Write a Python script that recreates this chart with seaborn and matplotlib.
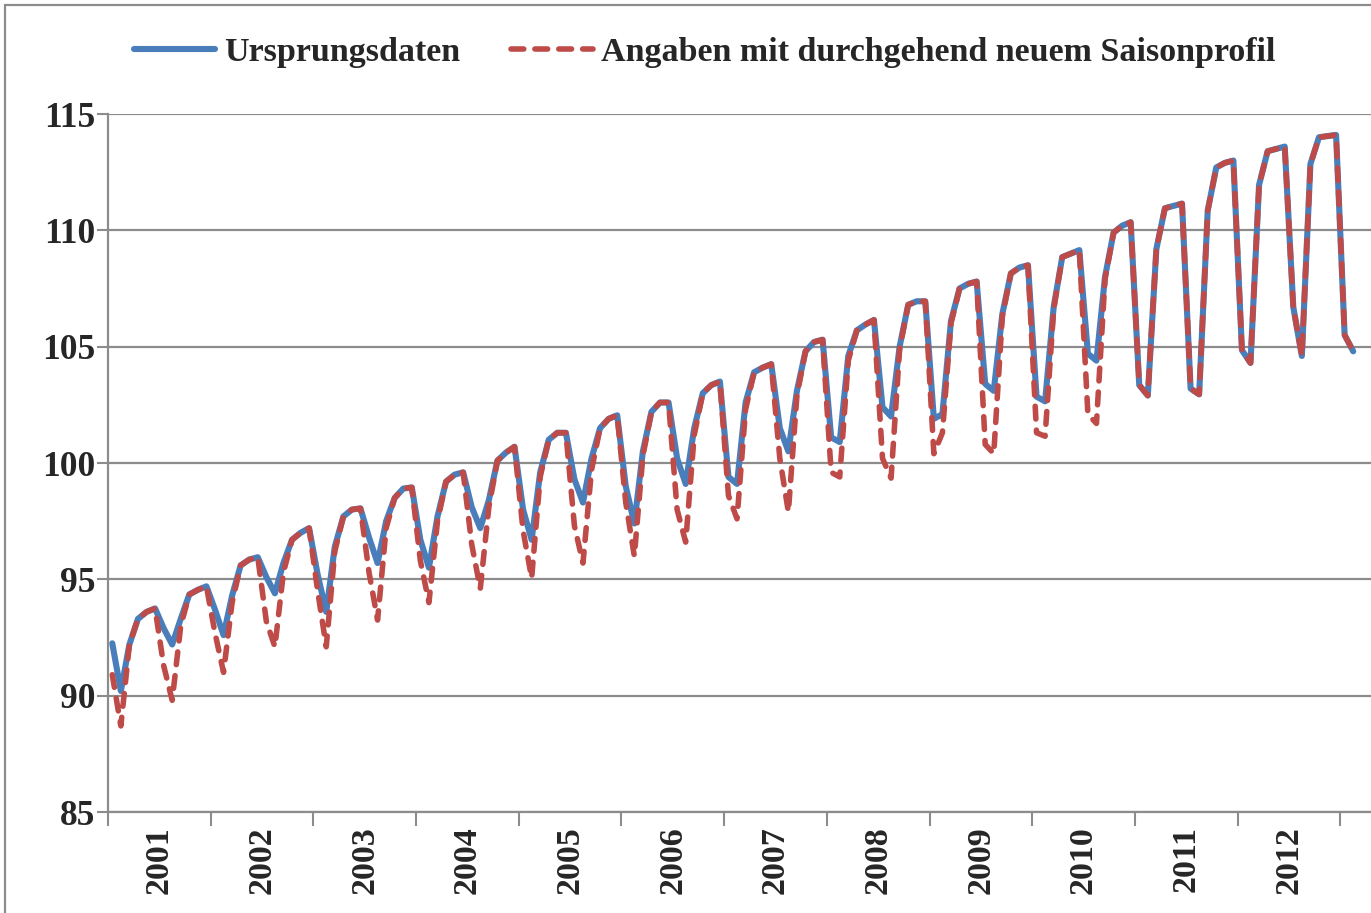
import numpy as np
import pandas as pd
import matplotlib
matplotlib.use('Agg')
import matplotlib.pyplot as plt
import seaborn as sns
from matplotlib.patches import Rectangle

# Jahre auf der x-Achse
jahre = ['2001', '2002', '2003', '2004', '2005', '2006',
         '2007', '2008', '2009', '2010', '2011', '2012']

# Monatswerte Jan 2001 - Feb 2013
ursprung = [
    92.25, 90.2, 92.2, 93.3, 93.6, 93.75, 92.9, 92.2, 93.3, 94.35, 94.55, 94.7,        # 2001
    93.7, 92.6, 94.3, 95.6, 95.85, 95.95, 95.1, 94.4, 95.7, 96.7, 97.0, 97.2,          # 2002
    95.2, 93.6, 96.4, 97.7, 98.0, 98.05, 96.8, 95.7, 97.5, 98.5, 98.9, 98.95,          # 2003
    96.7, 95.5, 97.7, 99.2, 99.5, 99.6, 98.1, 97.2, 98.4, 100.1, 100.45, 100.7,        # 2004
    98.0, 96.7, 99.6, 101.0, 101.3, 101.3, 99.3, 98.3, 100.2, 101.5, 101.9, 102.05,    # 2005
    99.0, 97.4, 100.5, 102.2, 102.6, 102.6, 100.2, 99.1, 101.5, 103.0, 103.35, 103.5,  # 2006
    99.4, 99.1, 102.6, 103.9, 104.1, 104.25, 101.5, 100.5, 103.1, 104.8, 105.2, 105.3, # 2007
    101.1, 100.9, 104.6, 105.7, 105.95, 106.15, 102.4, 102.0, 105.0, 106.8, 106.95, 106.95,  # 2008
    101.9, 102.1, 106.1, 107.5, 107.7, 107.8, 103.4, 103.1, 106.4, 108.15, 108.4, 108.5,     # 2009
    102.85, 102.65, 106.7, 108.85, 109.0, 109.15, 104.7, 104.4, 108.0, 109.9, 110.2, 110.35, # 2010
    103.35, 102.9, 109.2, 110.95, 111.05, 111.15, 103.2, 102.95, 110.85, 112.7, 112.9, 113.0, # 2011
    104.85, 104.3, 111.95, 113.4, 113.5, 113.6, 106.7, 104.6, 112.85, 114.0, 114.05, 114.1,   # 2012
    105.5, 104.8,                                                                             # 2013
]

neues_profil = [
    90.9, 88.7, 92.2, 93.3, 93.6, 93.75, 91.3, 89.8, 93.0, 94.35, 94.55, 94.7,
    92.7, 91.0, 94.0, 95.6, 95.85, 95.95, 93.2, 92.1, 95.3, 96.7, 97.0, 97.2,
    94.5, 92.1, 96.2, 97.7, 98.0, 98.05, 95.3, 93.25, 97.2, 98.5, 98.9, 98.95,
    95.8, 94.0, 97.5, 99.2, 99.5, 99.6, 96.5, 94.6, 98.1, 100.1, 100.45, 100.7,
    97.1, 95.05, 99.4, 101.0, 101.3, 101.3, 97.3, 95.7, 99.7, 101.5, 101.9, 102.05,
    98.3, 96.0, 100.3, 102.2, 102.6, 102.6, 98.0, 96.6, 101.2, 103.0, 103.35, 103.5,
    98.6, 97.6, 102.3, 103.9, 104.1, 104.25, 100.2, 97.9, 102.9, 104.8, 105.2, 105.3,
    99.6, 99.4, 104.4, 105.7, 105.95, 106.15, 100.2, 99.35, 104.9, 106.8, 106.95, 106.95,
    100.4, 101.3, 106.0, 107.5, 107.7, 107.8, 100.8, 100.4, 106.3, 108.15, 108.4, 108.5,
    101.3, 101.15, 106.6, 108.85, 109.0, 109.15, 102.1, 101.7, 107.9, 109.9, 110.2, 110.35,
    103.35, 102.9, 109.2, 110.95, 111.05, 111.15, 103.2, 102.95, 110.85, 112.7, 112.9, 113.0,
    104.85, 104.3, 111.95, 113.4, 113.5, 113.6, 106.7, 104.6, 112.85, 114.0, 114.05, 114.1,
    105.5, 104.8,
]

blau = '#4A7EBB'
rot = '#BE4B48'
grau = '#8C8C8C'

df = pd.DataFrame({
    'monat': np.arange(len(ursprung)),
    'Ursprungsdaten': ursprung,
    'Angaben mit durchgehend neuem Saisonprofil': neues_profil,
})

sns.set_style('white')
plt.rcParams['font.family'] = ['Liberation Serif', 'DejaVu Serif']
plt.rcParams['font.weight'] = 'bold'

fig = plt.figure(figsize=(13.71, 9.13), dpi=100)
ax = fig.add_axes([108 / 1371, 101 / 913, 1263 / 1371, 698 / 913])

sns.lineplot(data=df, x='monat', y='Ursprungsdaten', ax=ax, color=blau,
             linewidth=4.4, label='Ursprungsdaten', zorder=3)
sns.lineplot(data=df, x='monat', y='Angaben mit durchgehend neuem Saisonprofil', ax=ax,
             color=rot, linewidth=4.0, linestyle=(0, (2.3, 2.0)),
             dash_capstyle='round', label='Angaben mit durchgehend neuem Saisonprofil',
             zorder=4)

ax.set_xlim(-0.5, 147.08)
ax.set_ylim(85, 115)
ax.set_yticks(np.arange(85, 116, 5))
ax.set_yticklabels([str(v) for v in range(85, 116, 5)], fontsize=25.5, fontweight='bold')

ax.set_xticks(np.arange(13) * 12 - 0.5)
ax.set_xticklabels([])
ax.set_xticks(np.arange(12) * 12 + 5.5, minor=True)
ax.set_xticklabels(jahre, minor=True, rotation=90, fontsize=24.5, fontweight='bold')

ax.set_xlabel('')
ax.set_ylabel('')
ax.yaxis.grid(True, color=grau, linewidth=1.6)
ax.xaxis.grid(False)

ax.tick_params(axis='y', direction='out', length=8, width=1.5, color=grau, pad=1, left=True)
ax.tick_params(axis='x', which='major', direction='out', length=10, width=1.5, color=grau, bottom=True)
ax.tick_params(axis='x', which='minor', length=0, pad=10)

for side in ['top', 'right']:
    ax.spines[side].set_visible(False)
for side in ['left', 'bottom']:
    ax.spines[side].set_color(grau)
    ax.spines[side].set_linewidth(1.6)

handles, labels = ax.get_legend_handles_labels()
ax.get_legend().remove()
fig.legend(handles, labels, loc='center', bbox_to_anchor=(0.514, 0.943), ncol=2,
           frameon=False, prop={'size': 24.5, 'weight': 'bold'},
           handlelength=2.4, handletextpad=0.25, columnspacing=1.5)

# Rahmen des Diagrammbereichs (rechts und unten abgeschnitten)
fig.patches.append(Rectangle((5 / 1371, -0.2), 2.0, 1.2 - 5 / 913,
                             transform=fig.transFigure, fill=False,
                             edgecolor=grau, linewidth=1.6))

fig.savefig('out.png', dpi=100)
